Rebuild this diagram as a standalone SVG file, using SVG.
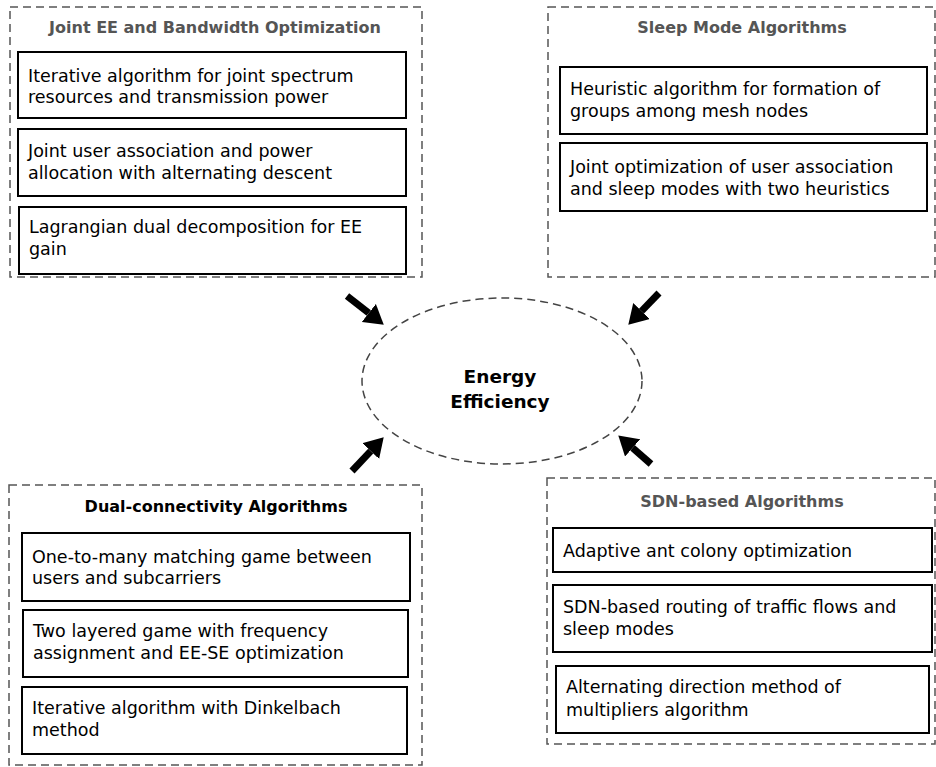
<svg xmlns="http://www.w3.org/2000/svg" width="936" height="767" viewBox="0 0 936 767">
<defs>
<marker id="ah" markerUnits="userSpaceOnUse" markerWidth="19" markerHeight="23" viewBox="0 0 19 23" refX="0" refY="11.5" orient="auto">
<path d="M0,0 L19,11.5 L0,23 z" fill="#000"/>
</marker>
<style>
.grp{fill:#fff;stroke:#555;stroke-width:1.5;stroke-dasharray:8 5}
.box{fill:#fff;stroke:#000;stroke-width:2}
.t{font-family:"DejaVu Sans",Verdana,sans-serif;font-size:17.5px;fill:#000}
.h{font-family:"DejaVu Sans",Verdana,sans-serif;font-size:16px;font-weight:bold;fill:#555;text-anchor:middle}
.hb{fill:#000}
.c{font-family:"DejaVu Sans",Verdana,sans-serif;font-size:18.5px;font-weight:bold;fill:#000;text-anchor:middle}
.arr{stroke:#000;stroke-width:7;fill:none;marker-end:url(#ah)}
</style>
</defs>
<rect width="936" height="767" fill="#fff"/>

<g id="joint-ee">
<rect class="grp" x="10" y="7" width="412" height="270"/>
<text class="h" x="215" y="33">Joint EE and Bandwidth Optimization</text>
<rect class="box" x="18" y="52" width="388" height="66"/>
<text class="t" x="28" y="81.5">Iterative algorithm for joint spectrum</text>
<text class="t" x="28" y="103">resources and transmission power</text>
<rect class="box" x="18" y="129" width="388" height="67"/>
<text class="t" x="28" y="157">Joint user association and power</text>
<text class="t" x="28" y="179">allocation with alternating descent</text>
<rect class="box" x="19" y="207" width="387" height="67"/>
<text class="t" x="29" y="233">Lagrangian dual decomposition for EE</text>
<text class="t" x="29" y="255">gain</text>
</g>

<g id="sleep-mode">
<rect class="grp" x="548" y="7" width="387" height="270"/>
<text class="h" x="742" y="33">Sleep Mode Algorithms</text>
<rect class="box" x="560" y="67" width="367" height="67"/>
<text class="t" x="570" y="95">Heuristic algorithm for formation of</text>
<text class="t" x="570" y="117">groups among mesh nodes</text>
<rect class="box" x="560" y="143" width="367" height="68"/>
<text class="t" x="570" y="173">Joint optimization of user association</text>
<text class="t" x="570" y="195">and sleep modes with two heuristics</text>
</g>

<g id="energy-efficiency">
<ellipse cx="502" cy="381" rx="140" ry="83" fill="#fff" stroke="#444" stroke-width="1.5" stroke-dasharray="8 5"/>
<text class="c" x="500" y="383">Energy</text>
<text class="c" x="500" y="408">Efficiency</text>
</g>

<g id="dual-connectivity">
<rect class="grp" x="9" y="485" width="413" height="280"/>
<text class="h hb" x="216" y="512">Dual-connectivity Algorithms</text>
<rect class="box" x="22" y="533" width="388" height="68"/>
<text class="t" x="32" y="563">One-to-many matching game between</text>
<text class="t" x="32" y="584">users and subcarriers</text>
<rect class="box" x="23" y="610" width="385" height="67"/>
<text class="t" x="33" y="637">Two layered game with frequency</text>
<text class="t" x="33" y="659">assignment and EE-SE optimization</text>
<rect class="box" x="22" y="687" width="385" height="67"/>
<text class="t" x="32" y="714">Iterative algorithm with Dinkelbach</text>
<text class="t" x="32" y="736">method</text>
</g>

<g id="sdn-based">
<rect class="grp" x="547" y="478" width="388" height="266"/>
<text class="h" x="742" y="507">SDN-based Algorithms</text>
<rect class="box" x="553" y="528" width="379" height="44"/>
<text class="t" x="563" y="557">Adaptive ant colony optimization</text>
<rect class="box" x="553" y="585" width="379" height="67"/>
<text class="t" x="563" y="613">SDN-based routing of traffic flows and</text>
<text class="t" x="563" y="635">sleep modes</text>
<rect class="box" x="556" y="666" width="373" height="67"/>
<text class="t" x="566" y="693">Alternating direction method of</text>
<text class="t" x="566" y="716">multipliers algorithm</text>
</g>

<g id="connectors">
<line class="arr" x1="347" y1="296" x2="368.8" y2="313"/>
<line class="arr" x1="659" y1="293" x2="641.5" y2="311.1"/>
<line class="arr" x1="352" y1="471" x2="370.7" y2="451.1"/>
<line class="arr" x1="651" y1="464" x2="632.6" y2="447.9"/>
</g>
</svg>
